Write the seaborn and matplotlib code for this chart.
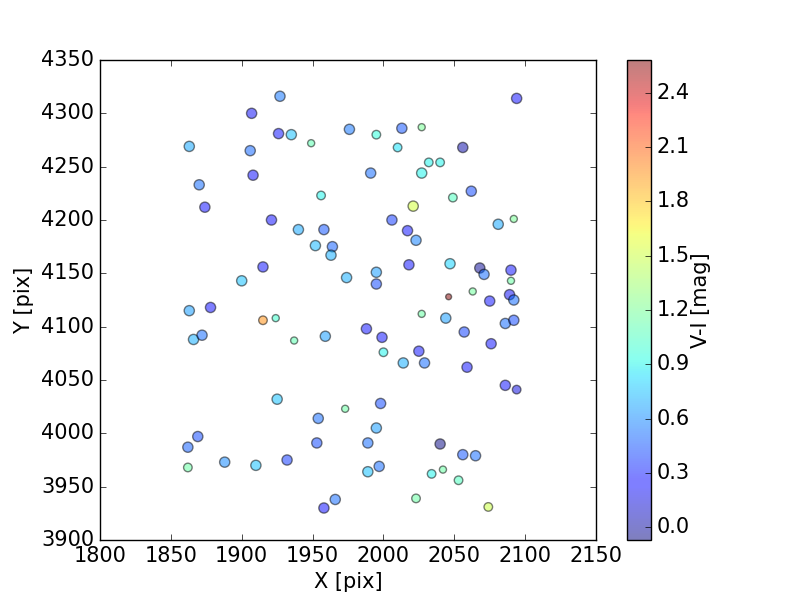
import numpy as np
import pandas as pd
import matplotlib
matplotlib.use("Agg")
import matplotlib.pyplot as plt
import seaborn as sns

# star positions (pix), colour V-I (mag) and marker size class
x_pix = [1927, 1907, 1926, 1935, 1949, 1863, 1906, 1908, 1870, 1874,
         1956, 1921, 1940, 1958, 1952, 1964, 1963, 1974, 1915, 1900,
         1976, 2094, 1995, 2013, 2027, 2010, 2056, 2032, 2040, 1991,
         2027, 2062, 2049, 2021, 2006, 2081, 2092, 2017, 2023, 1995,
         1995, 2018, 2047, 2068, 2071, 2090, 2090, 2046, 2063, 2075,
         2089, 2092, 1863, 1878, 1915, 1924, 1866, 1872, 1937, 1959,
         1925, 1973, 1954, 1869, 1862, 1953, 1862, 1888, 1910, 1932,
         1958, 1966, 2027, 2044, 2086, 2092, 1988, 1999, 2057, 2076,
         2000, 2025, 2014, 2029, 2059, 2086, 2094, 1998, 1995, 1989,
         2040, 2056, 2065, 1989, 1997, 2034, 2042, 2053, 2023, 2074]
y_pix = [4316, 4300, 4281, 4280, 4272, 4269, 4265, 4242, 4233, 4212,
         4223, 4200, 4191, 4191, 4176, 4175, 4167, 4146, 4156, 4143,
         4285, 4314, 4280, 4286, 4287, 4268, 4268, 4254, 4254, 4244,
         4244, 4227, 4221, 4213, 4200, 4196, 4201, 4190, 4181, 4151,
         4140, 4158, 4159, 4155, 4149, 4153, 4143, 4128, 4133, 4124,
         4130, 4125, 4115, 4118, 4106, 4108, 4088, 4092, 4087, 4091,
         4032, 4023, 4014, 3997, 3987, 3991, 3968, 3973, 3970, 3975,
         3930, 3938, 4112, 4108, 4103, 4106, 4098, 4090, 4095, 4084,
         4076, 4077, 4066, 4066, 4062, 4045, 4041, 4028, 4005, 3991,
         3990, 3980, 3979, 3964, 3969, 3962, 3966, 3956, 3939, 3931]
v_i = [0.55, 0.20, 0.28, 0.75, 1.10, 0.68, 0.50, 0.22, 0.52, 0.25,
       0.90, 0.22, 0.68, 0.45, 0.72, 0.48, 0.70, 0.70, 0.28, 0.75,
       0.55, 0.22, 0.95, 0.45, 1.20, 0.85, 0.02, 0.90, 0.90, 0.52,
       0.90, 0.42, 1.05, 1.52, 0.38, 0.68, 1.20, 0.28, 0.58, 0.65,
       0.42, 0.28, 0.80, -0.02, 0.52, 0.28, 1.15, 2.58, 1.18, 0.28,
       0.20, 0.52, 0.65, 0.22, 1.95, 1.00, 0.70, 0.52, 1.10, 0.65,
       0.75, 1.15, 0.52, 0.42, 0.48, 0.42, 1.15, 0.60, 0.75, 0.38,
       0.22, 0.52, 1.15, 0.65, 0.52, 0.42, 0.28, 0.28, 0.40, 0.28,
       0.90, 0.28, 0.70, 0.52, 0.28, 0.28, 0.15, 0.42, 0.65, 0.52,
       -0.07, 0.45, 0.52, 0.75, 0.52, 0.90, 1.15, 1.05, 1.15, 1.50]
size_class = ["L", "L", "L", "L", "S", "L", "L", "L", "L", "L",
              "M", "L", "L", "L", "L", "L", "L", "L", "L", "L",
              "L", "L", "M", "L", "S", "M", "L", "M", "M", "L",
              "L", "L", "M", "L", "L", "L", "S", "L", "L", "L",
              "L", "L", "L", "L", "L", "L", "S", "XS", "S", "L",
              "L", "L", "L", "L", "M", "S", "L", "L", "S", "L",
              "L", "S", "L", "L", "L", "L", "M", "L", "L", "L",
              "L", "L", "S", "L", "L", "L", "L", "L", "L", "L",
              "M", "L", "L", "L", "L", "L", "M", "L", "L", "L",
              "L", "L", "L", "L", "L", "M", "S", "M", "M", "M"]
area = {"L": 54, "M": 38, "S": 26, "XS": 18}

vmin, vmax = -0.07, 2.58
cb_ticks = [0.0, 0.3, 0.6, 0.9, 1.2, 1.5, 1.8, 2.1, 2.4]

df = pd.DataFrame({"X": x_pix, "Y": y_pix, "VI": v_i,
                   "s": [area[c] for c in size_class]})

plt.style.use("classic")
plt.rcParams["font.size"] = 15
plt.rcParams["font.family"] = ["DejaVu Sans"]

jet = matplotlib.colormaps["jet"]

fig, ax = plt.subplots(figsize=(8, 6), dpi=100)
fig.patch.set_facecolor("white")

sns.scatterplot(data=df, x="X", y="Y", hue="VI", palette=jet,
                hue_norm=(vmin, vmax), size="s", sizes=(18, 54),
                size_norm=(18, 54), alpha=0.5, edgecolor="k",
                linewidth=1, legend=False, ax=ax)

ax.set_xlim(1800, 2150)
ax.set_ylim(3900, 4350)
ax.set_xticks(np.arange(1800, 2151, 50))
ax.set_yticks(np.arange(3900, 4351, 50))
ax.set_xlabel("X [pix]")
ax.set_ylabel("Y [pix]")

sm = plt.cm.ScalarMappable(norm=plt.Normalize(vmin, vmax), cmap=jet)
sm.set_array([])
cb = fig.colorbar(sm, ax=ax, alpha=0.5, ticks=cb_ticks)
cb.ax.set_yticklabels([f"{t:.1f}" for t in cb_ticks])
cb.set_label("V-I [mag]", labelpad=1)

fig.savefig("out.png", dpi=100)
